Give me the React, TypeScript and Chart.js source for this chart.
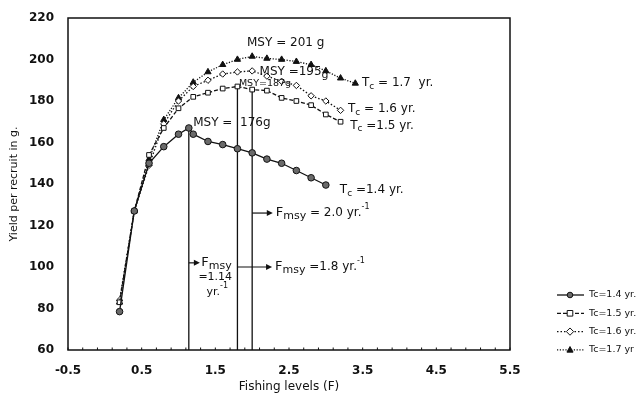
import React, { useEffect, useRef } from 'react';
import { Chart, registerables } from 'chart.js';
Chart.register(...registerables);

const FONT = "'DejaVu Sans', sans-serif";

// Fishing levels (F) and yield per recruit (g) for each age at first capture
const fTc14 = [0.2, 0.4, 0.6, 0.8, 1.0, 1.14, 1.2, 1.4, 1.6, 1.8, 2.0, 2.2, 2.4, 2.6, 2.8, 3.0];
const yTc14 = [78.5, 127, 150, 158, 164, 167, 164, 160.5, 159, 157, 155, 152, 150, 146.5, 143, 139.5];

const fTc15 = [0.2, 0.4, 0.6, 0.8, 1.0, 1.2, 1.4, 1.6, 1.8, 2.0, 2.2, 2.4, 2.6, 2.8, 3.0, 3.2];
const yTc15 = [83, 127, 154, 167, 176.5, 182, 184, 186, 187, 185.5, 185, 181.5, 180, 178, 173.5, 170];

const fTc16 = [0.2, 0.4, 0.6, 0.8, 1.0, 1.2, 1.4, 1.6, 1.8, 2.0, 2.2, 2.4, 2.6, 2.8, 3.0, 3.2];
const yTc16 = [84, 127, 149, 169, 180, 187, 190, 193, 194, 194.5, 192, 189.5, 187.5, 182.5, 180, 175.5];

const fTc17 = [0.2, 0.4, 0.6, 0.8, 1.0, 1.2, 1.4, 1.6, 1.8, 2.0, 2.2, 2.4, 2.6, 2.8, 3.0, 3.2, 3.4];
const yTc17 = [83, 127, 152, 171, 181.5, 189, 194, 197.5, 200, 201.5, 200.5, 200, 199, 197.5, 194.5, 191, 188.5];

// F(msy) drop lines
const fmsyX = [1.14, 1.8, 2.0];
const fmsyTop = [167, 187, 185.5];

const seriesNames = ['Tc=1.4 yr.', 'Tc=1.5 yr.', 'Tc=1.6 yr.', 'Tc=1.7 yr'];
const xTickValues = [-0.5, 0.5, 1.5, 2.5, 3.5, 4.5, 5.5];
const yMin = 60;
const yMax = 220;

const styles = [
  { pointStyle: 'circle', bg: '#6a6a6a', dash: [] as number[], r: 3.3 },
  { pointStyle: 'rect', bg: '#ffffff', dash: [4, 2], r: 3.3 },
  { pointStyle: 'rectRot', bg: '#ffffff', dash: [1.5, 2], r: 3.2 },
  { pointStyle: 'triangle', bg: '#111111', dash: [1.2, 1.6], r: 3.6 },
];

type Part = [string, number, number];

function drawRich(ctx: CanvasRenderingContext2D, x: number, y: number, parts: Part[]) {
  let cx = x;
  for (const [t, size, dy] of parts) {
    ctx.font = `${size}px ${FONT}`;
    ctx.fillText(t, cx, y + dy);
    cx += ctx.measureText(t).width;
  }
}

function drawMarker(ctx: CanvasRenderingContext2D, style: string, x: number, y: number, r: number, bg: string) {
  ctx.save();
  ctx.setLineDash([]);
  ctx.fillStyle = bg;
  ctx.strokeStyle = '#111';
  ctx.lineWidth = 1;
  ctx.beginPath();
  if (style === 'circle') ctx.arc(x, y, r, 0, Math.PI * 2);
  else if (style === 'rect') ctx.rect(x - r, y - r, 2 * r, 2 * r);
  else if (style === 'rectRot') {
    ctx.moveTo(x, y - r * 1.3); ctx.lineTo(x + r * 1.3, y); ctx.lineTo(x, y + r * 1.3); ctx.lineTo(x - r * 1.3, y); ctx.closePath();
  } else {
    ctx.moveTo(x, y - r * 1.2); ctx.lineTo(x + r * 1.1, y + r * 0.8); ctx.lineTo(x - r * 1.1, y + r * 0.8); ctx.closePath();
  }
  ctx.fill();
  ctx.stroke();
  ctx.restore();
}

const annotations = {
  id: 'annotations',
  afterDraw(chart: any) {
    const { ctx, chartArea: a, scales } = chart;
    const xs = scales.x;
    const ys = scales.y;
    const px = (v: number) => xs.getPixelForValue(v);
    const py = (v: number) => ys.getPixelForValue(v);
    ctx.save();
    // frame
    ctx.strokeStyle = '#111';
    ctx.lineWidth = 1.5;
    ctx.strokeRect(a.left, a.top, a.right - a.left, a.bottom - a.top);
    // minor ticks along x axis
    ctx.lineWidth = 1;
    for (let k = 0; k <= 30; k++) {
      const v = -0.5 + k * 0.2;
      const p = px(v);
      ctx.beginPath();
      ctx.moveTo(p, a.bottom);
      ctx.lineTo(p, a.bottom - 2.5);
      ctx.stroke();
    }
    ctx.fillStyle = '#111';
    ctx.textBaseline = 'middle';
    ctx.textAlign = 'left';

    // arrows
    const arrows = [
      { x0: 2.0, x1: 2.28, y: 126 },
      { x0: 1.8, x1: 2.27, y: 100 },
      { x0: 1.14, x1: 1.29, y: 102 },
    ];
    ctx.lineWidth = 1.2;
    for (const ar of arrows) {
      const x0 = px(ar.x0), x1 = px(ar.x1), y = py(ar.y);
      ctx.beginPath();
      ctx.moveTo(x0, y);
      ctx.lineTo(x1 - 3, y);
      ctx.stroke();
      ctx.beginPath();
      ctx.moveTo(x1, y);
      ctx.lineTo(x1 - 6, y - 3);
      ctx.lineTo(x1 - 6, y + 3);
      ctx.closePath();
      ctx.fill();
    }

    // F msy labels
    drawRich(ctx, px(2.32), py(126), [['F', 13, 0], ['msy', 11, 3], [' = 2.0 yr.', 12, 0], ['-1', 8, -6]]);
    drawRich(ctx, px(2.31), py(100), [['F', 13, 0], ['msy', 11, 3], [' =1.8 yr.', 12, 0], ['-1', 8, -6]]);
    drawRich(ctx, px(1.31), py(102), [['F', 13, 0], ['msy', 11, 3]]);
    drawRich(ctx, px(1.27), py(95), [['=1.14', 11, 0]]);
    drawRich(ctx, px(1.38), py(88), [['yr.', 11, 0], ['-1', 8, -6]]);

    // MSY labels
    drawRich(ctx, px(1.93), py(208), [['MSY = 201 g', 12, 0]]);
    drawRich(ctx, px(2.1), py(193.8), [['MSY =195', 12, 0], ['g', 11, 3]]);
    drawRich(ctx, px(1.82), py(188.3), [['MSY=187g', 9.5, 0]]);
    drawRich(ctx, px(1.2), py(169.5), [['MSY =  176g', 12, 0]]);

    // curve labels
    drawRich(ctx, px(3.49), py(188.5), [['T', 12, 0], ['c', 9, 3], [' = 1.7  yr.', 12, 0]]);
    drawRich(ctx, px(3.3), py(176), [['T', 12, 0], ['c', 9, 3], [' = 1.6 yr.', 12, 0]]);
    drawRich(ctx, px(3.33), py(168), [['T', 12, 0], ['c', 9, 3], [' =1.5 yr.', 12, 0]]);
    drawRich(ctx, px(3.19), py(137), [['T', 12, 0], ['c', 9, 3], [' =1.4 yr.', 12, 0]]);

    // legend
    const lx = 557, ly0 = 295, ldy = 18.3;
    for (let i = 0; i < 4; i++) {
      const y = ly0 + i * ldy;
      const st = styles[i];
      ctx.save();
      ctx.lineWidth = 1.3;
      ctx.setLineDash(st.dash);
      ctx.beginPath();
      ctx.moveTo(lx, y);
      ctx.lineTo(lx + 27, y);
      ctx.stroke();
      ctx.restore();
      drawMarker(ctx, st.pointStyle, lx + 13, y, 2.8, st.bg);
      ctx.fillStyle = '#111';
      ctx.font = `9.5px ${FONT}`;
      ctx.fillText(seriesNames[i], lx + 32, y);
    }
    ctx.restore();
  },
};

export default function App() {
  const ref = useRef<HTMLCanvasElement>(null);
  useEffect(() => {
    if (!ref.current) return;
    const pts = (xs: number[], ys: number[]) => xs.map((x, i) => ({ x, y: ys[i] }));
    const curves = [
      pts(fTc14, yTc14),
      pts(fTc15, yTc15),
      pts(fTc16, yTc16),
      pts(fTc17, yTc17),
    ];
    const datasets: any[] = curves.map((data, i) => ({
      label: seriesNames[i],
      data,
      borderColor: '#111',
      borderWidth: 1.3,
      borderDash: styles[i].dash,
      pointStyle: styles[i].pointStyle,
      pointRadius: styles[i].r,
      pointBackgroundColor: styles[i].bg,
      pointBorderColor: '#111',
      pointBorderWidth: 1,
      tension: 0,
      fill: false,
    }));
    fmsyX.forEach((fx, i) => {
      datasets.push({
        label: 'Fmsy ' + fx,
        data: [{ x: fx, y: yMin }, { x: fx, y: fmsyTop[i] }],
        borderColor: '#111',
        borderWidth: 1.3,
        pointRadius: 0,
        fill: false,
      });
    });
    const chart = new Chart(ref.current, {
      type: 'line',
      data: { datasets },
      options: {
        responsive: false,
        animation: false,
        layout: { padding: { top: 18, right: 133, left: 0, bottom: 0 } },
        plugins: { legend: { display: false }, tooltip: { enabled: false } },
        scales: {
          x: {
            type: 'linear',
            min: -0.5,
            max: 5.5,
            afterBuildTicks: (s: any) => { s.ticks = xTickValues.map((v) => ({ value: v })); },
            afterFit: (s: any) => { s.height = 50; },
            grid: { display: false },
            border: { display: false },
            ticks: {
              color: '#111',
              font: { family: FONT, size: 12, weight: 'bold' },
              padding: 6,
              maxRotation: 0,
              autoSkip: false,
              callback: (v: any) => Number(v).toFixed(1),
            },
            title: {
              display: true,
              text: 'Fishing levels (F)',
              color: '#111',
              font: { family: FONT, size: 12 },
              padding: { top: 4, bottom: 6 },
            },
          },
          y: {
            min: yMin,
            max: yMax,
            afterFit: (s: any) => { s.width = 68; },
            grid: { display: false },
            border: { display: false },
            ticks: {
              stepSize: 20,
              color: '#111',
              font: { family: FONT, size: 12, weight: 'bold' },
              padding: 6,
            },
            title: {
              display: true,
              text: 'Yield per recruit in g.',
              color: '#111',
              font: { family: FONT, size: 11 },
              padding: { top: 8, bottom: 2 },
            },
          },
        },
      } as any,
      plugins: [annotations],
    });
    return () => chart.destroy();
  }, []);
  return (
    <div style={{ position: 'fixed', left: 0, top: 0, width: 643, height: 400, background: '#fff' }}>
      <canvas ref={ref} width={643} height={400} style={{ width: 643, height: 400 }} />
    </div>
  );
}
